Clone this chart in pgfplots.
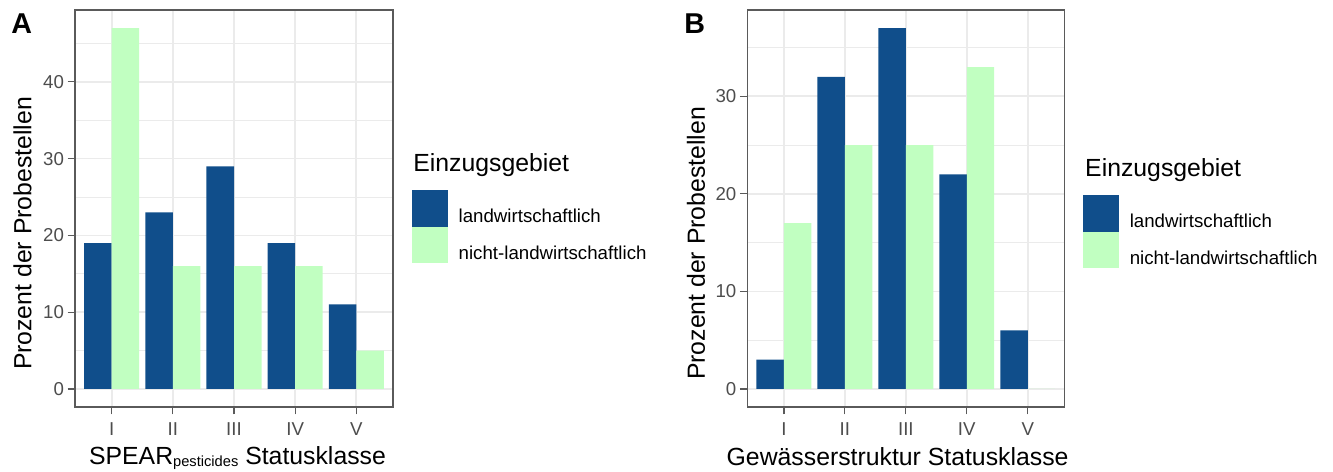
\documentclass[border=0pt]{standalone}
\usepackage{pgfplots}
\pgfplotsset{compat=1.18}
\usepackage{fontspec}
\setmainfont{Liberation Sans}
\definecolor{landw}{HTML}{104E8B}
\definecolor{nicht}{HTML}{C1FFC1}
\definecolor{gridc}{HTML}{EBEBEB}
\definecolor{framec}{HTML}{5A5A5A}
\definecolor{tickc}{HTML}{4D4D4D}
\pgfplotsset{
  panel/.style={
    scale only axis, width=238.5pt, height=297.75pt,
    xmin=0.4, xmax=5.6,
    xtick={1,2,3,4,5}, xticklabels={I,II,III,IV,V},
    ymajorgrids, yminorgrids, xmajorgrids,
    major grid style={gridc, line width=1.3pt},
    minor grid style={gridc, line width=0.65pt},
    axis line style={framec, line width=0.9pt},
    tick align=outside, major tick length=5.6pt, minor tick length=0pt,
    tick style={framec, line width=0.9pt},
    xtick pos=bottom, ytick pos=left,
    tick label style={font=\fontsize{14}{16}\selectfont, text=tickc},
    yticklabel style={anchor=east, inner sep=0pt, xshift=-2.5pt},
    xticklabel style={anchor=north, inner sep=0pt, yshift=-5.8pt},
    /pgf/number format/assume math mode=true,
    label style={font=\fontsize{18.6}{22}\selectfont, text=black},
    ybar, bar width=0.45,
    every axis plot/.append style={draw=none},
    clip=false,
    legend style={draw=none, fill=none, inner sep=0pt, row sep=0pt,
      column sep=8.25pt, anchor=north west,
      nodes={inner sep=0pt, font=\fontsize{14}{16}\selectfont}},
    legend cell align=left,
    legend image code/.code={\fill[##1] (0pt,-7.3pt) rectangle (26.6pt,20.1pt);},
  }
}
\begin{document}
\begin{tikzpicture}[x=0.75pt,y=0.75pt]
\path[use as bounding box] (0,0) rectangle (1333,471);
\node[anchor=base west, inner sep=0pt, font=\bfseries\fontsize{21.5}{24}\selectfont] at (11,437.7) {A};
\node[anchor=base west, inner sep=0pt, font=\bfseries\fontsize{21.5}{24}\selectfont] at (684,437.7) {B};
\begin{axis}[panel, at={(56.25pt,48pt)}, anchor=south west,
  ymin=-2.35, ymax=49.35, ytick={0,10,20,30,40}, minor ytick={5,15,25,35,45},
  xlabel={SPEAR\raisebox{-1.5pt}{\fontsize{11}{12}\selectfont pesticides} Statusklasse},
  ylabel={Prozent der Probestellen},
  xlabel style={at={(axis description cs:0.511,-0.146)}, anchor=base},
  ylabel style={at={(axis description cs:-0.165,0.437)}, anchor=center},
  legend style={at={(axis description cs:1.0597,0.5466)}}]
\addplot[fill=landw, bar shift=-0.225] coordinates {(1,19) (2,23) (3,29) (4,19) (5,11)};
\addplot[fill=nicht, bar shift=0.225] coordinates {(1,47) (2,16) (3,16) (4,16) (5,5)};
\legend{landwirtschaftlich, nicht-landwirtschaftlich}
\node[anchor=base west, inner sep=0pt, font=\fontsize{18.6}{22}\selectfont] at (axis description cs:1.063,0.592) {Einzugsgebiet};
\end{axis}
\begin{axis}[panel, at={(560.5pt,48pt)}, anchor=south west, width=237.75pt,
  ymin=-1.85, ymax=38.85, ytick={0,10,20,30}, minor ytick={5,15,25,35},
  xlabel={Gewässerstruktur Statusklasse},
  ylabel={Prozent der Probestellen},
  xlabel style={at={(axis description cs:0.474,-0.1486)}, anchor=base},
  ylabel style={at={(axis description cs:-0.162,0.412)}, anchor=center},
  legend style={at={(axis description cs:1.059,0.534)}}]
\addplot[fill=landw, bar shift=-0.225] coordinates {(1,3) (2,32) (3,37) (4,22) (5,6)};
\addplot[fill=nicht, bar shift=0.225] coordinates {(1,17) (2,25) (3,25) (4,33) (5,0)};
\legend{landwirtschaftlich, nicht-landwirtschaftlich}
\node[anchor=base west, inner sep=0pt, font=\fontsize{18.6}{22}\selectfont] at (axis description cs:1.065,0.580) {Einzugsgebiet};
\end{axis}
\end{tikzpicture}
\end{document}
